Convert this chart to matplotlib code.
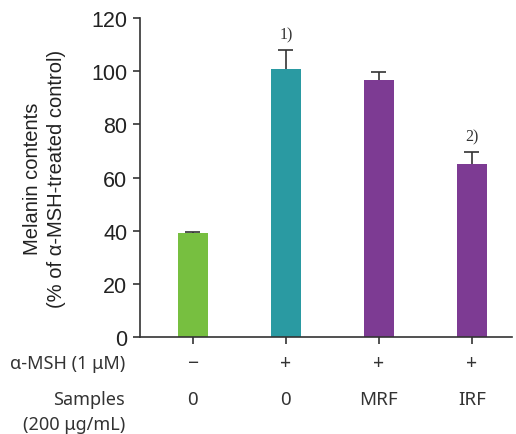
import matplotlib.pyplot as plt

samples = ['0', '0', 'MRF', 'IRF']
msh = ['\u2212', '+', '+', '+']
melanin = [39.2, 100.8, 96.6, 65.2]
err = [0.4, 7.1, 3.0, 4.3]
marks = ['', '1)', '', '2)']
colors = ['#77bf40', '#2a9aa2', '#7d3b93', '#7d3b93']

fig = plt.figure(figsize=(5.16, 4.35), dpi=100)
ax = fig.add_axes([0.271, 0.223, 0.721, 0.733])

x = list(range(len(samples)))
ax.bar(x, melanin, width=0.33, color=colors, zorder=2)
# upper-only error bars
tops = [m + e for m, e in zip(melanin, err)]
ax.vlines(x, melanin, tops, color='#333333', lw=1.2, zorder=1)
ax.hlines(tops, [i - 0.08 for i in x], [i + 0.08 for i in x], color='#333333', lw=1.2, zorder=1)
for i, m in enumerate(marks):
    if m:
        ax.text(i, tops[i] + 3, m, ha='center', va='bottom',
                fontsize=11.5, family='Liberation Serif', color='#333333')

ax.set_xlim(-0.57, 3.43)
ax.set_ylim(0, 120)
ax.set_yticks([0, 20, 40, 60, 80, 100, 120])
ax.set_xticks(x)
ax.set_xticklabels([])
for s in ['top', 'right']:
    ax.spines[s].set_visible(False)
for s in ['left', 'bottom']:
    ax.spines[s].set_color('#333333')
    ax.spines[s].set_linewidth(1.2)
ax.tick_params(axis='both', length=5, width=1.2, color='#333333')
ax.tick_params(axis='y', labelsize=15.5, labelcolor='#222222', pad=4)
for t in ax.get_yticklabels():
    t.set_family('Liberation Sans')

ax.set_ylabel('Melanin contents\n(% of \u03b1-MSH-treated control)', fontsize=14.5,
              family='Liberation Sans', color='#222222', linespacing=1.35, labelpad=18)

# rows under the axis
lab_kw = dict(fontsize=13, family='Noto Sans', color='#333333')
fig.text(125 / 516, 1 - 364 / 435, '\u03b1-MSH (1 \u03bcM)', ha='right', va='center', **lab_kw)
fig.text(125 / 516, 1 - 400 / 435, 'Samples', ha='right', va='center', **lab_kw)
fig.text(125 / 516, 1 - 425 / 435, '(200 \u03bcg/mL)', ha='right', va='center', **lab_kw)
for i in x:
    ax.annotate(msh[i], (i, 0), xycoords=('data', 'axes fraction'), xytext=(0, -26),
                textcoords='offset pixels', ha='center', va='center', fontsize=14,
                family='Noto Sans', color='#333333')
    ax.annotate(samples[i], (i, 0), xycoords=('data', 'axes fraction'), xytext=(0, -62),
                textcoords='offset pixels', ha='center', va='center', fontsize=13.5,
                family='Noto Sans', color='#333333')

fig.savefig('out.png', dpi=100)
